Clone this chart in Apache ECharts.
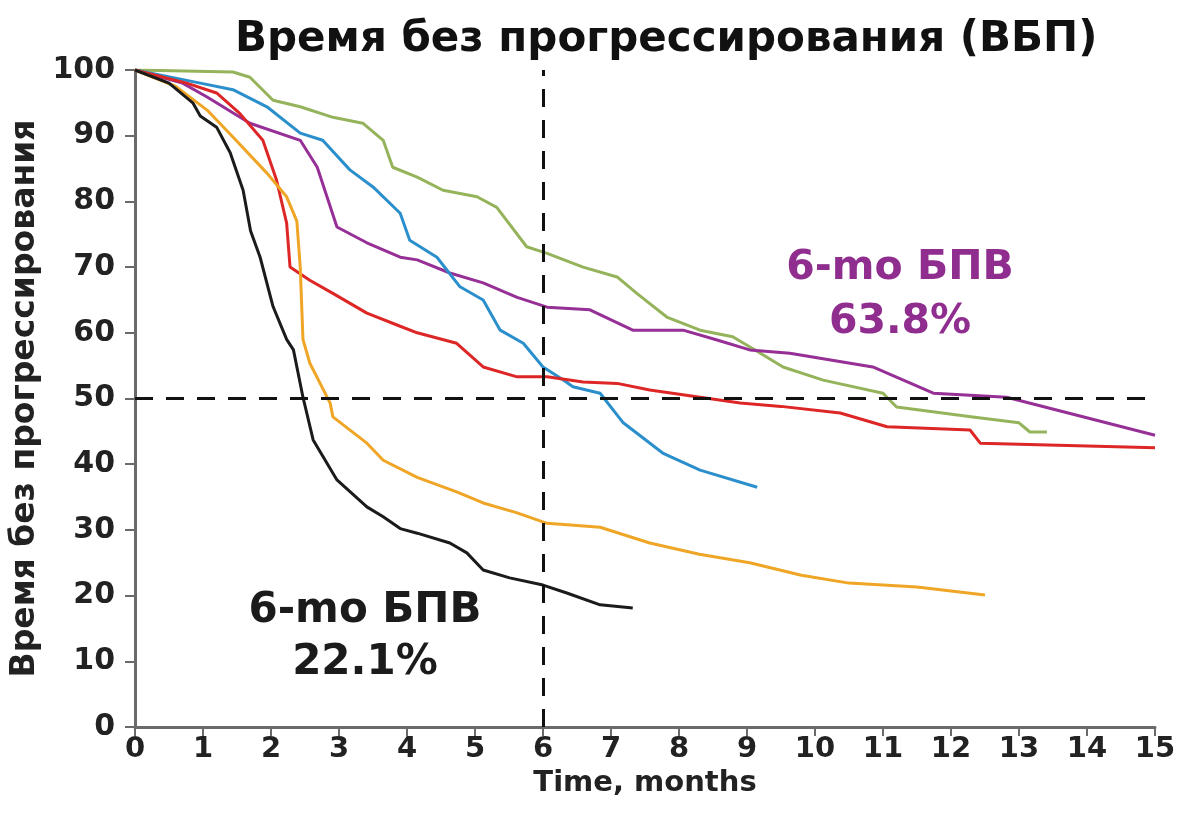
<!DOCTYPE html>
<html>
<head>
<meta charset="utf-8">
<script src="https://cdn.jsdelivr.net/npm/echarts@6/dist/echarts.min.js"></script>
<style>
  html, body { margin: 0; padding: 0; background: #fff; }
  #main { width: 1178px; height: 821px; }
</style>
</head>
<body>
<div id="main"></div>
<script>
// [month, PFS %]
var blackCurve = [[0,100],[0.5,98],[0.85,95],[0.96,93],[1.2,91.3],[1.4,87.4],[1.59,81.7],[1.7,75.5],[1.84,71.5],[2.03,64],[2.23,59],[2.33,57.4],[2.47,50.2],[2.62,43.7],[2.97,37.6],[3.41,33.5],[3.65,32],[3.9,30.2],[4.15,29.5],[4.63,28],[4.88,26.5],[5.12,23.9],[5.51,22.7],[6.0,21.6],[6.35,20.4],[6.84,18.6],[7.32,18.1]];
var orangeCurve = [[0,100],[0.6,97.5],[1.06,93.9],[1.44,89.8],[1.94,84.3],[2.23,80.7],[2.38,77],[2.43,70],[2.47,59],[2.57,55.4],[2.87,49.3],[2.91,47.2],[3.41,43.2],[3.65,40.6],[4.15,38],[4.73,35.8],[5.12,34.1],[5.62,32.6],[6.06,31],[6.84,30.4],[7.57,28],[8.3,26.3],[9.04,25],[9.8,23.1],[10.5,21.9],[11.5,21.3],[12.5,20.1]];
var redCurve = [[0,100],[0.76,98],[1.2,96.5],[1.54,93.4],[1.88,89.3],[2.08,83.3],[2.23,76.7],[2.28,70],[2.57,68],[2.91,66],[3.41,63],[3.9,61],[4.15,60],[4.73,58.4],[5.12,54.8],[5.62,53.3],[6.06,53.3],[6.59,52.5],[7.09,52.3],[7.57,51.3],[8.9,49.3],[9.5,48.8],[10.37,47.8],[11.06,45.7],[12.28,45.2],[12.43,43.2],[15,42.5]];
var blueCurve = [[0,100],[0.96,98],[1.44,97],[1.94,94.4],[2.43,90.4],[2.76,89.3],[3.16,84.8],[3.5,82.2],[3.9,78.2],[4.04,74.1],[4.44,71.5],[4.78,67],[5.12,65],[5.37,60.4],[5.71,58.4],[6.0,54.8],[6.3,52.8],[6.44,51.8],[6.84,50.8],[7.18,46.3],[7.76,41.7],[8.31,39.1],[9.15,36.5]];
var purpleCurve = [[0,100],[0.7,98],[1.06,95.9],[1.69,91.9],[2.43,89.3],[2.68,85.2],[2.97,76.1],[3.41,73.7],[3.9,71.5],[4.15,71.1],[4.63,69.1],[5.12,67.6],[5.62,65.4],[6.06,63.9],[6.69,63.5],[7.32,60.4],[8.06,60.4],[8.56,58.9],[9.04,57.4],[9.63,56.9],[10.85,54.8],[11.74,50.8],[12.82,50.2],[15,44.4]];
var greenCurve = [[0,100],[1.44,99.7],[1.69,98.9],[2.03,95.4],[2.43,94.4],[2.91,92.8],[3.35,91.9],[3.65,89.3],[3.79,85.2],[4.15,83.7],[4.53,81.7],[5.03,80.7],[5.32,79.1],[5.76,73.1],[6.06,72.1],[6.59,70],[7.09,68.5],[7.38,66],[7.82,62.4],[8.31,60.4],[8.79,59.4],[9.1,57.5],[9.53,54.8],[10.12,52.8],[11,50.8],[11.2,48.7],[12.32,47.2],[13.0,46.3],[13.16,44.9],[13.41,44.9]];

var medianLevel = 50;
var landmarkMonth = 6;

var myChart = echarts.init(document.getElementById('main'));
var font = 'DejaVu Sans, Liberation Sans, sans-serif';

function curve(data, color) {
    return {
        type: 'line',
        data: data,
        symbol: 'none',
        lineStyle: { color: color, width: 3 },
        z: 3
    };
}

var series = [
    curve(greenCurve, '#95b35a'),
    curve(purpleCurve, '#962f96'),
    curve(blueCurve, '#2b8fcc'),
    curve(redCurve, '#dd2626'),
    curve(orangeCurve, '#efa526'),
    curve(blackCurve, '#1b1b1b')
];

// dashed guide lines: median and 6-month landmark
series.push({
    type: 'line',
    data: [],
    markLine: {
        silent: true,
        symbol: 'none',
        label: { show: false },
        lineStyle: { color: '#111', width: 3, type: [18, 13] },
        data: [{ yAxis: medianLevel }, { xAxis: landmarkMonth }]
    }
});

var option = {
    backgroundColor: '#fff',
    animation: false,
    title: {
        text: 'Время без прогрессирования (ВБП)',
        left: 230,
        top: 14,
        textStyle: { fontFamily: font, fontSize: 42, fontWeight: 'bold', color: '#111' }
    },
    grid: { left: 135, right: 23, top: 70, bottom: 94, outerBoundsMode: 'none' },
    xAxis: {
        type: 'value',
        min: 0,
        max: 15,
        interval: 1,
        name: 'Time, months',
        nameLocation: 'middle',
        nameGap: 40,
        nameTextStyle: { fontFamily: font, fontSize: 29, fontWeight: 'bold', color: '#222' },
        splitLine: { show: false },
        axisLine: { lineStyle: { color: '#6a6a6a', width: 3 } },
        axisTick: { length: 9, lineStyle: { color: '#6a6a6a', width: 2 } },
        axisLabel: { fontFamily: font, fontSize: 29, fontWeight: 'bold', color: '#222', margin: 8 }
    },
    yAxis: {
        type: 'value',
        min: 0,
        max: 100,
        interval: 10,
        name: 'Время без прогрессирования',
        nameLocation: 'middle',
        nameGap: 80,
        nameTextStyle: { fontFamily: font, fontSize: 33, fontWeight: 'bold', color: '#222' },
        splitLine: { show: false },
        axisLine: { show: true, lineStyle: { color: '#6a6a6a', width: 3 } },
        axisTick: { show: true, length: 10, lineStyle: { color: '#6a6a6a', width: 2 } },
        axisLabel: { fontFamily: font, fontSize: 30, fontWeight: 'bold', color: '#222', margin: 20 }
    },
    graphic: [
        {
            type: 'text', x: 365, y: 637, z: 10,
            style: { text: '6-mo БПВ\n22.1%', fontFamily: font, fontSize: 42, fontWeight: 'bold', fill: '#1b1b1b', align: 'center', verticalAlign: 'middle', lineHeight: 52 }
        },
        {
            type: 'text', x: 900, y: 295, z: 10,
            style: { text: '6-mo БПВ\n63.8%', fontFamily: font, fontSize: 41, fontWeight: 'bold', fill: '#8f2e8f', align: 'center', verticalAlign: 'middle', lineHeight: 54 }
        }
    ],
    series: series
};

myChart.setOption(option);
</script>
</body>
</html>
